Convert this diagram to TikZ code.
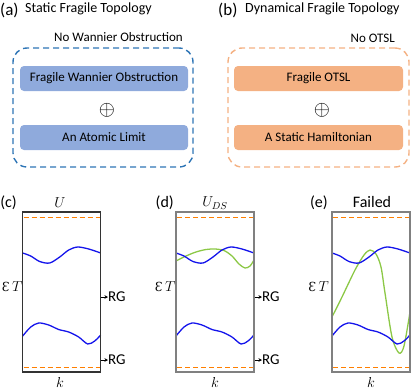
\documentclass[tikz,border=0pt]{standalone}
\usepackage{fontspec}
\setmainfont{Carlito}
\newfontfamily\serifsym{DejaVu Serif}
\usetikzlibrary{positioning,arrows.meta,calc}

\definecolor{wfill}{RGB}{143,170,220}
\definecolor{wline}{RGB}{46,117,182}
\definecolor{ofill}{RGB}{244,177,131}
\definecolor{limitorange}{RGB}{255,127,0}
\definecolor{bandblue}{RGB}{20,20,235}
\definecolor{bandgreen}{RGB}{140,200,70}

% frame with the two blue bands and the orange dashed limits, #1 = name suffix, #2 = frame colour
\newcommand{\bandsFrame}[2]{%
  \draw[band] plot[smooth] coordinates {(0,41) (8,44) (17,49.5) (27,51) (37,45) (46,38) (55,35) (66,37) (78,41)};
  \draw[band] plot[smooth] coordinates {(0,124) (8,115) (16,111) (26,113) (36,117.5) (46,120) (56,125) (65,132) (72,129) (78,123)};
  \draw[limitline] (1,5.5) -- (77,5.5);
  \draw[limitline] (1,155.5) -- (77,155.5);
  \node[panelframe, draw=#2] (frame#1) at (39,80) {};
}
\newcommand{\epsT}{{\serifsym\fontsize{12.5}{13}\selectfont Ɛ}\,$T$}

\begin{document}
\begin{tikzpicture}[
    x=1pt,
    y=-1pt,
    >=Stealth,
    font=\fontsize{13}{15}\selectfont,
    txt/.style={inner sep=0pt},
    title/.style={inner sep=0pt, font=\fontsize{14}{16}\selectfont},
    biglabel/.style={inner sep=0pt, font=\fontsize{17}{18}\selectfont},
    panellabel/.style={inner sep=0pt, font=\fontsize{16}{17}\selectfont},
    mathlabel/.style={inner sep=0pt, font=\fontsize{14}{14}\selectfont},
    groupbox/.style={draw, dash pattern=on 6pt off 4pt, line width=1.4pt, rounded corners=14pt, minimum width=180, minimum height=119},
    wbox/.style={fill=wfill, rounded corners=4pt, minimum width=168, minimum height=25, inner sep=0pt},
    obox/.style={fill=ofill, rounded corners=4pt, minimum width=169, minimum height=25, inner sep=0pt},
    dsum/.style={inner sep=0pt, font=\fontsize{21}{21}\selectfont},
    panelframe/.style={line width=1.1pt, minimum width=78, minimum height=160, inner sep=0pt},
    limitline/.style={draw=limitorange, line width=1.4pt, dash pattern=on 5pt off 3pt},
    band/.style={draw=bandblue, line width=1.3pt},
    greenband/.style={draw=bandgreen, line width=1.3pt},
    rg/.style={inner sep=0pt, anchor=west, font=\fontsize{15}{16}\selectfont},
    rgarrow/.style={-{Stealth[length=3.5pt,width=3.5pt]}, line width=0.8pt}
]
\useasboundingbox (0,0) rectangle (415,389);

% --- (a) static ---
\node[biglabel, anchor=west] (labA) at (0,10) {(a)};
\node[title, anchor=west] (titleA) at (25,9) {Static Fragile Topology};
\node[groupbox, draw=wline] (grpA) at (103,107.5) {};
\node[txt, anchor=east] (noWO) at (183,37) {No Wannier Obstruction};
\node[wbox] (fwo) at (104,78.5) {Fragile Wannier Obstruction};
\node[wbox] (alim) at (104,137.5) {An Atomic Limit};
\node[dsum] (sumA) at (107,110) {$\oplus$};

% --- (b) dynamical ---
\node[biglabel, anchor=west] (labB) at (218,10) {(b)};
\node[title, anchor=west] (titleB) at (245,9) {Dynamical Fragile Topology};
\node[groupbox, draw=ofill, minimum width=181] (grpB) at (318.5,107.5) {};
\node[txt, anchor=east] (noOTSL) at (395,38) {No OTSL};
\node[obox] (fotsl) at (318.5,78.5) {Fragile OTSL};
\node[obox] (sham) at (318.5,137.5) {A Static Hamiltonian};
\node[dsum] (sumB) at (322,110) {$\oplus$};

% --- (c) U ---
\begin{scope}[shift={(22.7,212)}]
  \bandsFrame{C}{black!80}
\end{scope}
\node[panellabel, anchor=east] (labC) at (17,203) {(c)};
\node[mathlabel] (uC) at (60,203) {$U$};
\node[mathlabel, anchor=east] (etC) at (22.5,287) {\epsT};
\node[mathlabel] (kC) at (60,382) {$k$};
\node[rg] (rgC1) at (108,297) {RG};
\node[rg] (rgC2) at (108,360) {RG};
\draw[rgarrow] (frameC.east |- rgC1) -- (rgC1.west);
\draw[rgarrow] (frameC.east |- rgC2) -- (rgC2.west);

% --- (d) U_DS ---
\begin{scope}[shift={(176,212)}]
  \draw[greenband] plot[smooth] coordinates {(0,49) (10,44) (20,40) (30,37.5) (39,37) (48,38.5) (56,44) (63,52) (69,56) (74,54) (78,48)};
  \bandsFrame{D}{gray}
\end{scope}
\node[panellabel, anchor=east] (labD) at (174,203) {(d)};
\node[mathlabel] (uD) at (215,203) {$U_{DS}$};
\node[mathlabel, anchor=east] (etD) at (175.5,287) {\epsT};
\node[mathlabel] (kD) at (215,382) {$k$};
\node[rg] (rgD1) at (262,297) {RG};
\node[rg] (rgD2) at (262,360) {RG};
\draw[rgarrow] (frameD.east |- rgD1) -- (rgD1.west);
\draw[rgarrow] (frameD.east |- rgD2) -- (rgD2.west);

% --- (e) failed ---
\begin{scope}[shift={(332,212)}]
  \draw[greenband] plot[smooth] coordinates {(0,105) (10,85) (23,58) (32,43) (38,38) (44,42) (49,55) (53,81) (60,125) (67,141) (72,134) (78,100)};
  \bandsFrame{E}{gray}
\end{scope}
\node[panellabel, anchor=east] (labE) at (328,203) {(e)};
\node[panellabel] (failE) at (372,202) {Failed};
\node[mathlabel, anchor=east] (etE) at (329,287) {\epsT};
\node[mathlabel] (kE) at (371,382) {$k$};

\end{tikzpicture}
\end{document}
